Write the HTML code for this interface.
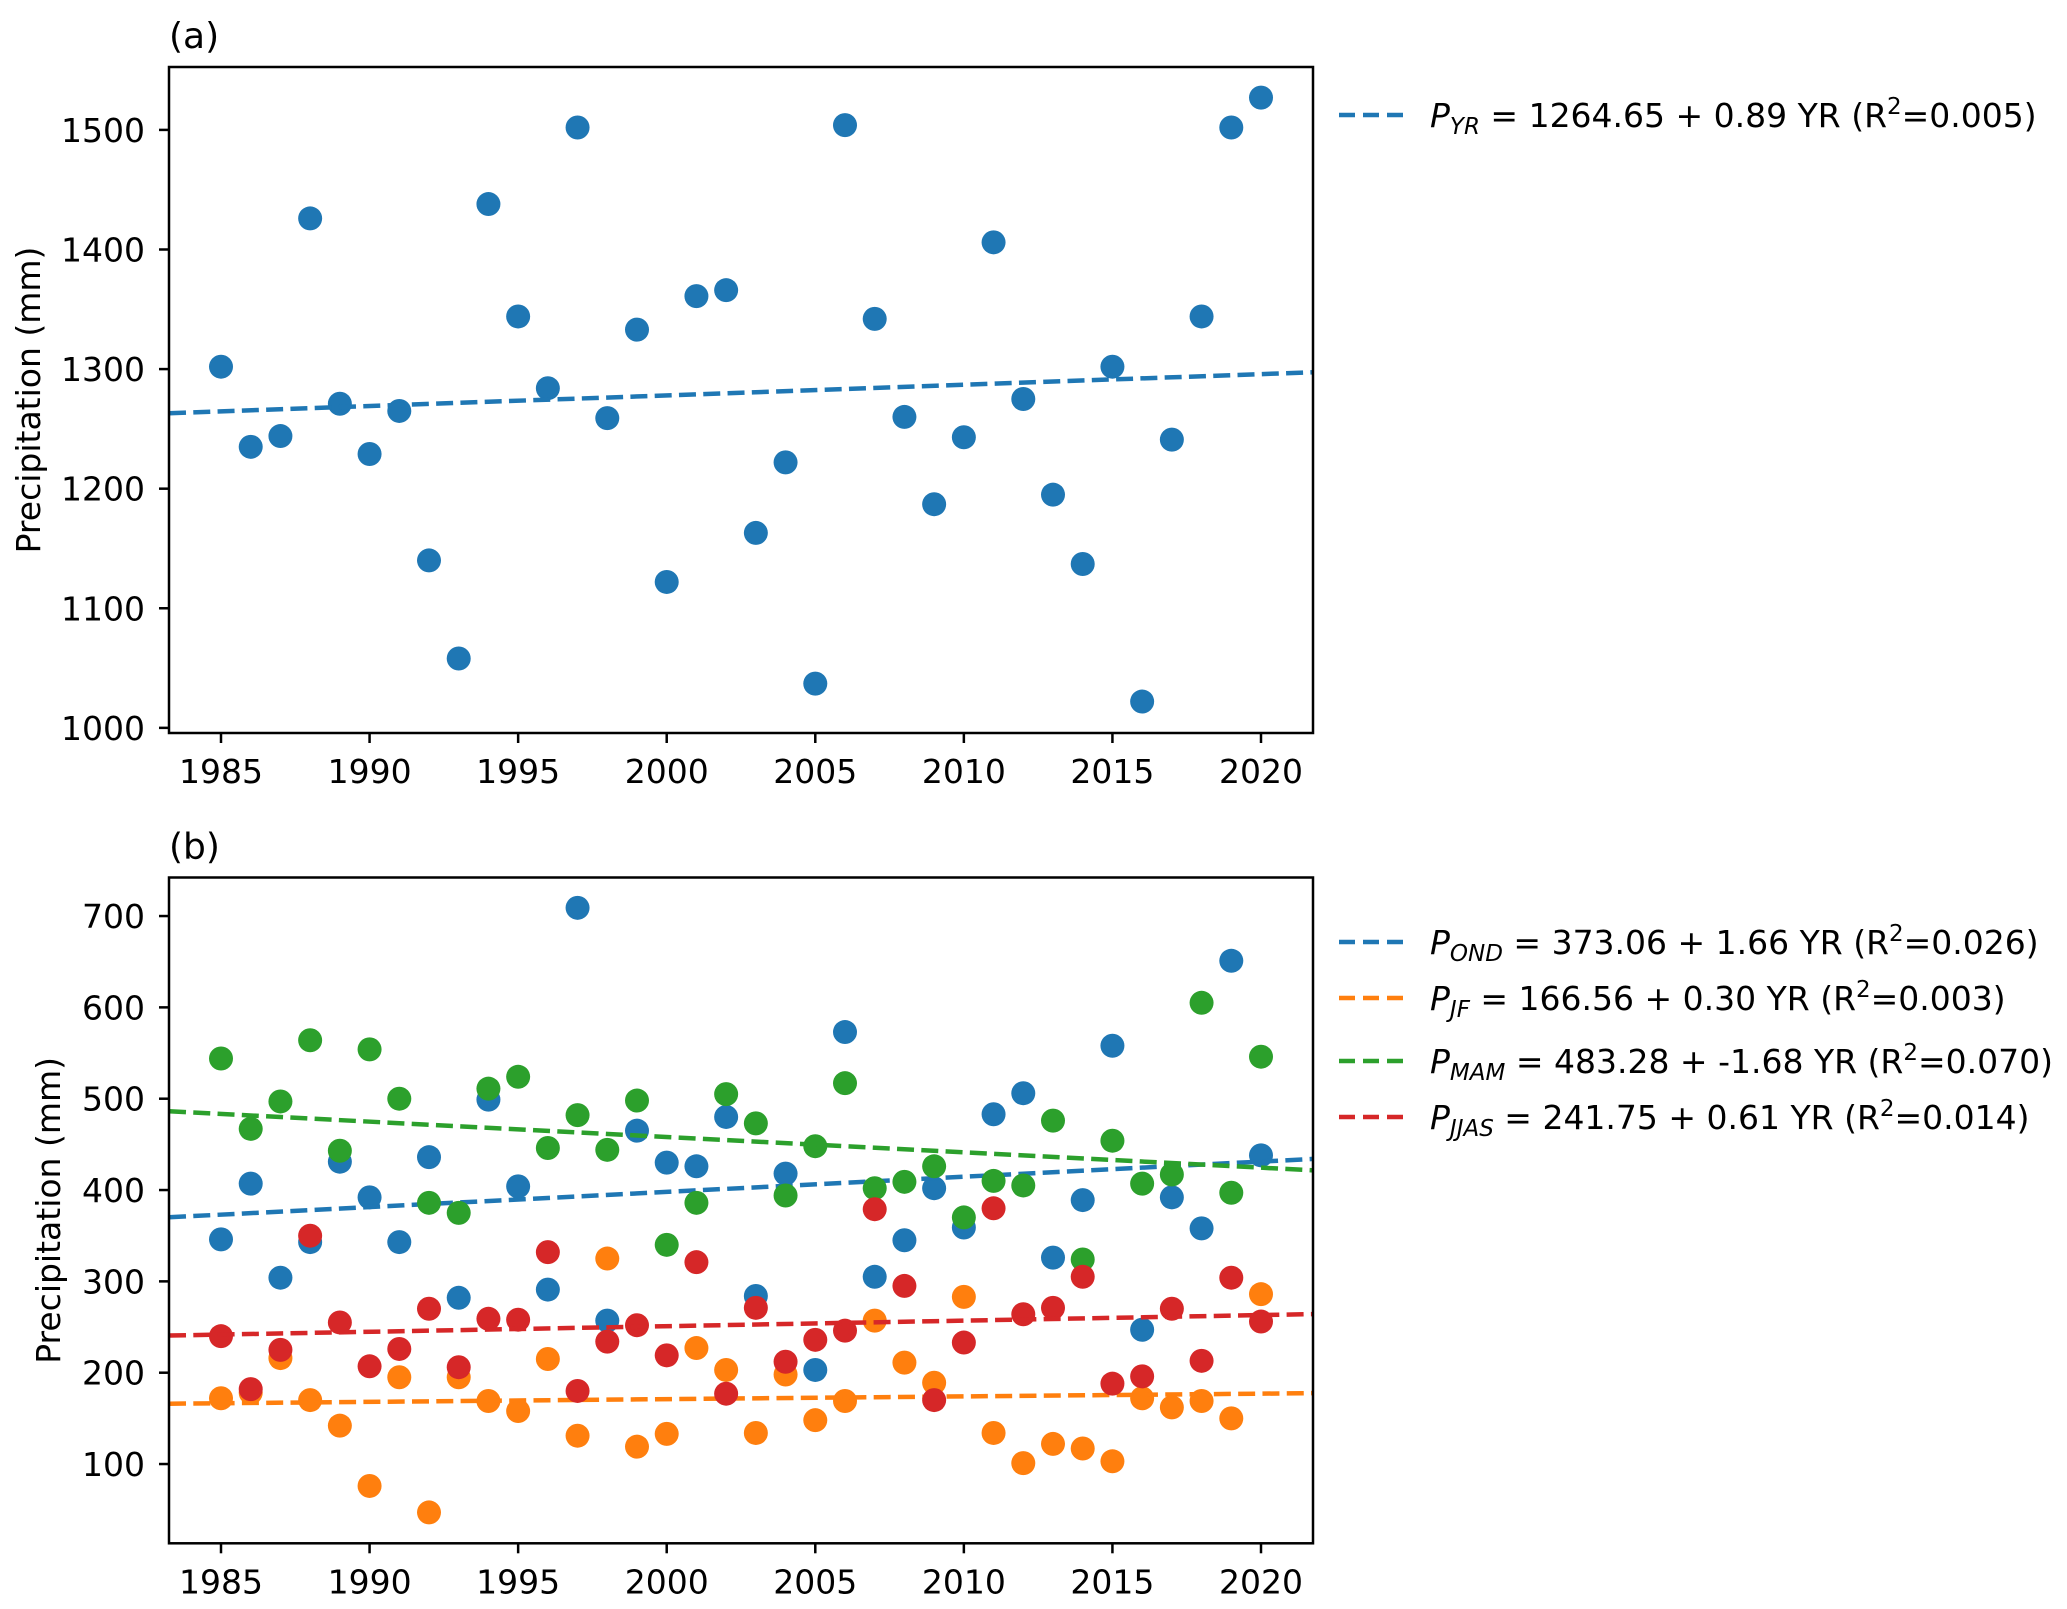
<!DOCTYPE html>
<html><head><meta charset="utf-8">
<style>
html,body{margin:0;padding:0;background:#fff;}
svg{display:block;font-family:"DejaVu Sans","Liberation Sans",sans-serif;}
</style></head>
<body>
<svg id="fig" width="2067" height="1609" viewBox="0 0 2067 1609" xmlns="http://www.w3.org/2000/svg">
</svg>
<script>
const years = [1985,1986,1987,1988,1989,1990,1991,1992,1993,1994,1995,1996,1997,1998,1999,2000,2001,2002,2003,2004,2005,2006,2007,2008,2009,2010,2011,2012,2013,2014,2015,2016,2017,2018,2019,2020];
const pYR = [1302,1235,1244,1426,1271,1229,1265,1140,1058,1438,1344,1284,1502,1259,1333,1122,1361,1366,1163,1222,1037,1504,1342,1260,1187,1243,1406,1275,1195,1137,1302,1022,1241,1344,1502,1527];
const pOND = [346,407,304,343,431,392,343,436,282,499,404,291,709,257,465,430,426,480,284,418,203,573,305,345,402,359,483,506,326,389,558,247,392,358,651,438];
const pJF = [172,178,216,170,142,76,195,47,195,169,158,215,131,325,119,133,227,203,134,198,148,169,257,211,189,283,134,101,122,117,103,172,162,169,150,286];
const pMAM = [544,467,497,564,443,554,500,386,375,511,524,446,482,444,498,340,386,505,473,394,448,517,402,409,426,370,410,405,476,324,454,407,417,605,397,546];
const pJJAS = [240,182,225,350,255,207,226,270,206,259,258,332,180,234,252,219,321,177,271,212,236,246,379,295,170,233,380,264,271,305,188,196,270,213,304,256];
const trendIntercepts = [1264.65, 373.06, 166.56, 483.28, 241.75];
const trendSlopes = [0.89, 1.66, 0.30, -1.68, 0.61];
const yTicksA = [1000,1100,1200,1300,1400,1500];
const yTicksB = [100,200,300,400,500,600,700];
const xTicks = [1985,1990,1995,2000,2005,2010,2015,2020];
const legendSubs = ['YR','OND','JF','MAM','JJAS'];
const legendRest = [' = 1264.65 + 0.89 YR (R',' = 373.06 + 1.66 YR (R',' = 166.56 + 0.30 YR (R',' = 483.28 + -1.68 YR (R',' = 241.75 + 0.61 YR (R'];
const legendR2 = ['=0.005)','=0.026)','=0.003)','=0.070)','=0.014)'];

const NS = "http://www.w3.org/2000/svg";
const svg = document.getElementById('fig');
const COL = ['#1f77b4','#1f77b4','#ff7f0e','#2ca02c','#d62728'];
const FS = 33;
const DASH = '17 7.3';
function mk(tag, attrs, parent){ const e=document.createElementNS(NS,tag); for(const k in attrs) e.setAttribute(k,attrs[k]); (parent||svg).appendChild(e); return e; }

const L=169, R=1313;
const X0=1983.25, X1=2021.75;
const xs = yr => L + (yr - X0) / (X1 - X0) * (R - L);

function panel(name, top, bottom, vmin, vmax, ticks, label, ytitleX){
  const g = mk('g',{});
  
  
  const ys = v => bottom - (v - vmin) / (vmax - vmin) * (bottom - top);
  const lab = mk('text',{x:L, y:top-19, 'font-size':36, fill:'#000'}, g);
  lab.textContent = label;
  
  
  const yt = mk('text',{x:0, y:0, 'font-size':FS, 'text-anchor':'middle', transform:`translate(${ytitleX},${(top+bottom)/2}) rotate(-90)`}, g);
  yt.textContent = 'Precipitation (mm)';
  
  
  ticks.forEach(t=>{
    const y = ys(t);
    const tk = mk('line',{x1:L-10, x2:L, y1:y, y2:y, stroke:'#000', 'stroke-width':2.5}, g);
    
    
    const tl = mk('text',{x:L-24, y:y+12, 'font-size':FS, 'text-anchor':'end'}, g);
    tl.textContent = t;
    
    
  });
  xTicks.forEach(t=>{
    const x = xs(t);
    const tk = mk('line',{x1:x, x2:x, y1:bottom, y2:bottom+10, stroke:'#000', 'stroke-width':2.5}, g);
    
    
    const tl = mk('text',{x:x, y:bottom+50, 'font-size':FS, 'text-anchor':'middle'}, g);
    tl.textContent = t;
    
    
  });
  const plot = mk('g',{}, g);
  
  
  const frame = mk('rect',{x:L, y:top, width:R-L, height:bottom-top, fill:'none', stroke:'#000', 'stroke-width':2.5}, g);
  
  
  return {ys, plot, g};
}
function series(p, vals, ti, name){
  const color = COL[ti];
  vals.forEach((v,i)=>{
    const c = mk('circle',{cx:xs(years[i]), cy:p.ys(v), r:12, fill:color}, p.plot);
    
    
  });
  const f = yr => trendIntercepts[ti] + trendSlopes[ti]*(yr-1985);
  const ln = mk('line',{x1:xs(X0), y1:p.ys(f(X0)), x2:xs(X1), y2:p.ys(f(X1)), stroke:color, 'stroke-width':4.5, 'stroke-dasharray':DASH}, p.plot);
  
  
}
function legendEntry(ti, y, name){
  const g = mk('g',{});
  
  
  const ln = mk('line',{x1:1339, x2:1403, y1:y, y2:y, stroke:COL[ti], 'stroke-width':4.5, 'stroke-dasharray':'16 8'}, g);
  
  
  const t = mk('text',{x:1430, y:y+12, 'font-size':FS}, g);
  
  
  const a = mk('tspan',{'font-style':'italic'}, t); a.textContent = 'P';
  const b = mk('tspan',{'font-style':'italic','font-size':23, dy:7}, t); b.textContent = legendSubs[ti];
  const c = mk('tspan',{dy:-7}, t); c.textContent = legendRest[ti];
  const d = mk('tspan',{'font-size':23, dy:-13}, t); d.textContent = '2';
  const e = mk('tspan',{dy:13}, t); e.textContent = legendR2[ti];
}

const pa = panel('panel-a', 67, 733, 995.7, 1552.6, yTicksA, '(a)', 40);
series(pa, pYR, 0, 'annual');
const pb = panel('panel-b', 877.5, 1543.3, 13.2, 742.2, yTicksB, '(b)', 60);
series(pb, pOND, 1, 'ond');
series(pb, pJF, 2, 'jf');
series(pb, pMAM, 3, 'mam');
series(pb, pJJAS, 4, 'jjas');

legendEntry(0, 115, 'legend-entry-yr');
legendEntry(1, 942, 'legend-entry-ond');
legendEntry(2, 998, 'legend-entry-jf');
legendEntry(3, 1061, 'legend-entry-mam');
legendEntry(4, 1117, 'legend-entry-jjas');
</script>
</body></html>
